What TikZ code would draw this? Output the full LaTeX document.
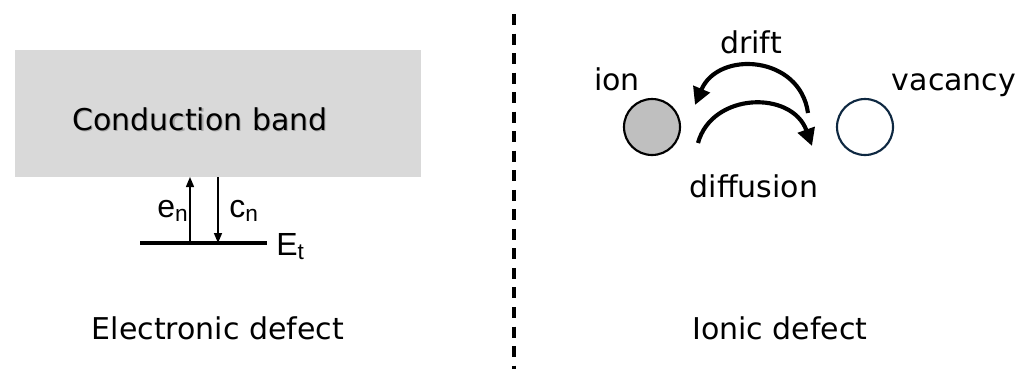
\documentclass[tikz,border=0pt]{standalone}
\usepackage{fontspec}
\setmainfont{DejaVu Sans}
\newfontfamily\arialf{Liberation Sans}
\usetikzlibrary{arrows.meta}
\definecolor{bandgray}{HTML}{D9D9D9}
\definecolor{iongray}{HTML}{BFBFBF}
\definecolor{vacblue}{HTML}{0E2841}
\newcommand{\subn}[1]{\raisebox{-3pt}{\fontsize{17pt}{17pt}\selectfont #1}}
\begin{document}
\begin{tikzpicture}[x=0.75pt,y=-0.75pt,
  lbl/.style={font=\fontsize{22.5pt}{27pt}\selectfont, inner sep=0pt, anchor=base},
  symb/.style={font=\arialf\fontsize{24pt}{28pt}\selectfont, inner sep=0pt, anchor=base west},
  band/.style={fill=bandgray, draw=none, minimum width=304.5pt, minimum height=95.25pt, inner sep=0pt},
  level/.style={line width=2.5pt},
  thinarr/.style={line width=1.1pt, -{Triangle[length=7.5pt,width=6pt]}},
  bigarr/.style={line width=3.1pt, -{Triangle[length=13pt,width=13pt]}},
  divider/.style={line width=2.3pt, dash pattern=on 8.25pt off 6.4pt},
  particle/.style={circle, line width=1.6pt, minimum size=42pt, inner sep=0pt}]
\useasboundingbox (0,0) rectangle (1032,369);

% ---- left: electronic defect ----
\node[band] (cb) at (218,113.5) {};
\node[lbl, text=black!35] (cbshadow) at (201.3,131.3) {Conduction band};
\node[lbl] (cbtext) at (200,130) {Conduction band};

\coordinate (lvA) at (140,243);
\coordinate (lvB) at (267,243);
\draw[level] (lvA) -- (lvB);

\coordinate (upS) at (190,243);
\coordinate (upE) at (190,177);
\coordinate (dnS) at (218,177);
\coordinate (dnE) at (218,243);
\draw[thinarr] (upS) -- (upE);
\draw[thinarr] (dnS) -- (dnE);

\node[symb] (en) at (157,217) {e\subn{n}};
\node[symb] (cn) at (229,217) {c\subn{n}};
\node[symb] (Et) at (276,255) {E\subn{t}};

\node[lbl] (elec) at (218,339) {Electronic defect};

% ---- divider ----
\coordinate (divT) at (514,14);
\coordinate (divB) at (514,369);
\draw[divider] (divT) -- (divB);

% ---- right: ionic defect ----
\node[particle, draw=black, fill=iongray] (ion) at (652,127) {};
\node[particle, draw=vacblue, fill=white] (vac) at (865,127) {};

\node[lbl] (ionlbl) at (617,90) {ion};
\node[lbl] (vaclbl) at (954,90) {vacancy};
\node[lbl] (driftlbl) at (751,53) {drift};
\node[lbl] (difflbl) at (754,197) {diffusion};

\coordinate (drS) at (808,113);
\coordinate (drE) at (695,105);
\coordinate (dfS) at (698,143);
\coordinate (dfE) at (812,146);
\draw[bigarr] (drS) .. controls (800,55) and (718,50) .. (drE);
\draw[bigarr] (dfS) .. controls (712,92) and (792,90) .. (dfE);

\node[lbl] (ionic) at (780,339) {Ionic defect};
\end{tikzpicture}
\end{document}
